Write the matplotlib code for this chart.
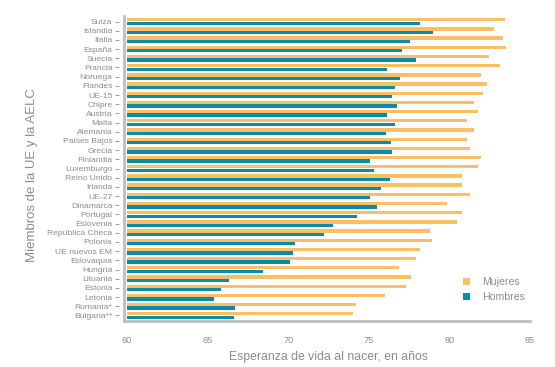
import matplotlib
matplotlib.use("Agg")
import matplotlib.pyplot as plt
from matplotlib.lines import Line2D
import numpy as np

countries = [
    "Suiza", "Islandia", "Italia", "España", "Suecia", "Francia", "Noruega",
    "Flandes", "UE-15", "Chipre", "Austria", "Malta", "Alemania",
    "Países Bajos", "Grecia", "Finlandia", "Luxemburgo", "Reino Unido",
    "Irlanda", "UE-27", "Dinamarca", "Portugal", "Eslovenia",
    "República Checa", "Polonia", "UE nuevos EM", "Eslovaquia", "Hungría",
    "Lituania", "Estonia", "Letonia", "Rumanía*", "Bulgaria**",
]
mujeres = [
    83.45, 82.75, 83.3, 83.5, 82.45, 83.15, 81.95, 82.35, 82.1, 81.5,
    81.8, 81.1, 81.55, 81.1, 81.25, 81.95, 81.75, 80.8, 80.8, 81.25,
    79.85, 80.8, 80.45, 78.8, 78.9, 78.2, 77.9, 76.85, 77.6, 77.3,
    76.0, 74.2, 74.0,
]
hombres = [
    78.2, 79.0, 77.55, 77.05, 77.95, 76.15, 76.95, 76.6, 76.45, 76.75,
    76.15, 76.6, 76.05, 76.4, 76.45, 75.1, 75.3, 76.3, 75.75, 75.05,
    75.5, 74.25, 72.75, 72.2, 70.4, 70.3, 70.1, 68.45, 66.3, 65.85,
    65.4, 66.7, 66.65,
]

orange = "#F9BF62"
teal = "#0A8BAA"
grey = "#8C8C8C"
spine_grey = "#BDBEC0"

plt.rcParams["font.family"] = ["Liberation Sans", "DejaVu Sans"]

fig = plt.figure(figsize=(5.55, 3.67), dpi=100)
ax = fig.add_axes((127 / 555, 46 / 367, 403 / 555, 305 / 367))

y = np.arange(len(countries))
h = 0.36
ax.barh(y - 0.19, mujeres, height=h, left=0, color=orange, label="Mujeres")
ax.barh(y + 0.19, hombres, height=h, left=0, color=teal, label="Hombres")

ax.set_xlim(60, 85)
ax.set_ylim(len(countries) - 0.4, -0.6)
ax.set_yticks(y)
ax.set_yticklabels(countries)
ax.set_xticks([60, 65, 70, 75, 80, 85])

# spines drawn by hand, ticks sit a little left of the axis line
for s in ["top", "right", "bottom"]:
    ax.spines[s].set_visible(False)
ax.spines["left"].set_position(("outward", 6))
ax.spines["left"].set_visible(False)
off = -3 / 403
ax.add_line(Line2D([off, off], [0, 1], transform=ax.transAxes,
                   color=spine_grey, lw=2, clip_on=False))
ax.add_line(Line2D([off, 1], [0, 0], transform=ax.transAxes,
                   color=spine_grey, lw=2, clip_on=False))

ax.tick_params(axis="y", length=3, width=0.6, color=grey, labelcolor=grey,
               labelsize=6.1, pad=1.5)
ax.tick_params(axis="x", length=0, labelcolor=grey, labelsize=6.6, pad=11)

ax.set_xlabel("Esperanza de vida al nacer, en años", color=grey,
              fontsize=8.8, labelpad=4)
fig.text(32 / 555, 1 - 175 / 367, "Miembros de la UE y la AELC", color=grey,
         fontsize=9.5, rotation=90, ha="center", va="center")

leg = fig.legend(loc="upper left", bbox_to_anchor=(463 / 555, 1 - 277 / 367),
                 frameon=False, fontsize=7.6, handlelength=0.7,
                 handleheight=0.7, labelspacing=0.5, handletextpad=1.1,
                 borderpad=0, borderaxespad=0)
for t in leg.get_texts():
    t.set_color(grey)

fig.savefig("out.png", dpi=100)
